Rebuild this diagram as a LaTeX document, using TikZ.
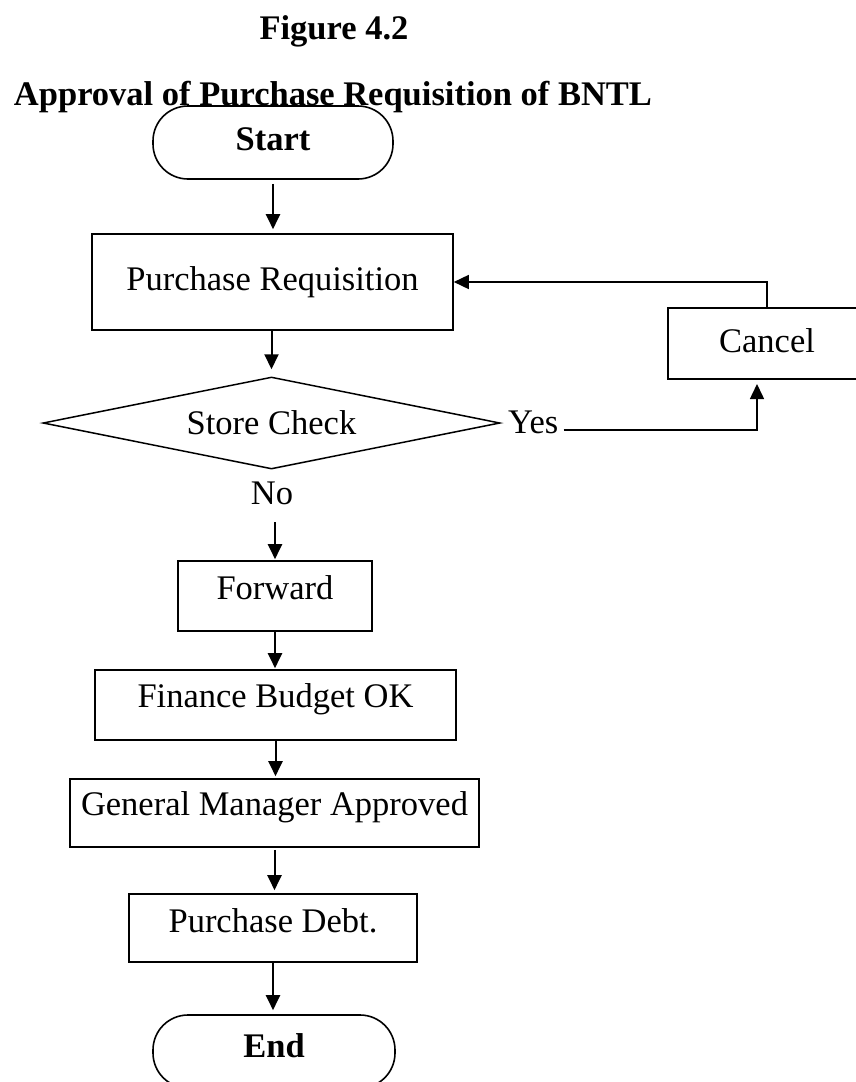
\documentclass[tikz,border=0pt]{standalone}
\usepackage{fontspec}
\setmainfont{Liberation Serif}
\usetikzlibrary{arrows.meta,shapes.geometric,calc}
\tikzset{
  lbl/.style={font=\fontsize{34.5pt}{40pt}\selectfont, inner sep=0pt, text height=24pt},
  boldlbl/.style={lbl, font=\fontsize{34.5pt}{40pt}\selectfont\bfseries},
  box/.style={lbl, draw, line width=1.6pt, rectangle},
  term/.style={box, rounded corners=35pt, font=\fontsize{34.5pt}{40pt}\selectfont\bfseries},
  arr/.style={-{Triangle[length=15pt,width=14pt]}, line width=2pt},
}
\begin{document}
\begin{tikzpicture}[x=1pt,y=-1pt]
\useasboundingbox (0,0) rectangle (856,1082);
\clip (0,0) rectangle (856,1082);
% titles
\node[boldlbl, anchor=base] (fig) at (334,39) {Figure 4.2};
\node[boldlbl, anchor=base] (title) at (333,105) {Approval of Purchase Requisition of BNTL};
% nodes
\node[term, minimum width=240pt, minimum height=73pt, text depth=9pt] (start) at (273,142.5) {Start};
\node[box, minimum width=361pt, minimum height=96pt, text depth=8pt] (pr) at (272.5,282) {Purchase Requisition};
\node[lbl, diamond, draw, line width=1.5pt, aspect=4.97, minimum width=457pt, minimum height=92pt, text depth=2pt] (sc) at (271.5,423) {Store Check};
\node[lbl, anchor=base west] (yes) at (508,433) {Yes};
\node[lbl, anchor=base] (no) at (272,504) {No};
\node[box, line width=2pt, minimum width=198pt, minimum height=71pt, text depth=7pt] (cancel) at (767,343.5) {Cancel};
\node[box, minimum width=194pt, minimum height=70pt, text depth=18pt] (fwd) at (275,596) {Forward};
\node[box, minimum width=361pt, minimum height=70pt, text depth=20pt] (fin) at (275.5,705) {Finance Budget OK};
\node[box, minimum width=409pt, minimum height=68pt, text depth=20pt] (gm) at (274.5,813) {General Manager Approved};
\node[box, minimum width=288pt, minimum height=68pt, text depth=16pt] (pd) at (273,928) {Purchase Debt.};
\node[term, minimum width=242pt, minimum height=73pt, text depth=13pt] (end) at (274,1051.5) {End};
% connectors
\draw[arr, shorten <=4pt, shorten >=4pt] (start.south) -- (start.south |- pr.north);
\draw[arr, shorten >=7pt] (sc.north |- pr.south) -- (sc.north);
\draw[arr, shorten >=1pt] ($(fwd.north |- no.base)+(0,18)$) -- (fwd.north);
\draw[arr, shorten >=1pt] (fwd.south) -- (fwd.south |- fin.north);
\draw[arr, shorten >=2pt] (fin.south) -- (fin.south |- gm.north);
\draw[arr, shorten <=2pt, shorten >=3pt] (gm.south) -- (gm.south |- pd.north);
\draw[arr, shorten >=4pt] (pd.south) -- (pd.south |- end.north);
\coordinate (yesend) at ($(yes.base east)+(5,-3)$);
\draw[arr, line width=1.5pt, shorten >=4pt] (yesend) -| ($(cancel.south west)+(90,0)$);
\draw[arr, line width=1.6pt] (cancel.north) |- (pr.east);
\end{tikzpicture}
\end{document}
